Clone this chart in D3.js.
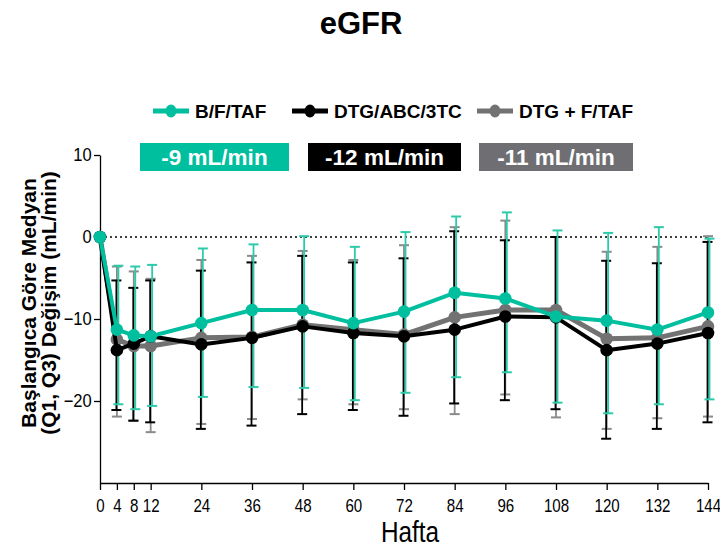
<!DOCTYPE html>
<html>
<head>
<meta charset="utf-8">
<script src="https://cdn.jsdelivr.net/npm/d3@7"></script>
<style>
  body { margin: 0; background: #fff; }
  svg { display: block; font-family: "Liberation Sans", Arial, sans-serif; }
  .tick text { font-family: "Liberation Sans", Arial, sans-serif; font-size: 18px; fill: #000; }
</style>
</head>
<body>
<svg id="chart" width="720" height="547"></svg>
<script>
// weeks on the x axis
var weeks = [0, 4, 8, 12, 24, 36, 48, 60, 72, 84, 96, 108, 120, 132, 144];

// B/F/TAF median change and quartiles
var bftafMedian = [0, -11.3, -12.0, -12.1, -10.5, -8.9, -8.9, -10.5, -9.1, -6.8, -7.5, -9.7, -10.2, -11.3, -9.2];
var bftafQ3 = [null, -3.5, -3.6, -3.4, -1.4, -0.9, 0.1, -1.2, 0.6, 2.5, 3.0, 0.8, 0.5, 1.2, -0.2];
var bftafQ1 = [null, -20.4, -21.0, -20.6, -19.5, -18.3, -18.4, -19.9, -19.0, -17.1, -16.5, -20.2, -21.5, -20.4, -19.8];

// DTG/ABC/3TC
var dtgAbcMedian = [0, -13.8, -13.0, -12.1, -13.1, -12.3, -10.9, -11.7, -12.1, -11.3, -9.7, -9.8, -13.8, -13.0, -11.7];
var dtgAbcQ3 = [null, -5.3, -6.2, -5.3, -4.1, -3.1, -2.3, -3.1, -2.6, 0.7, -0.4, 0.0, -2.9, -3.2, -0.6];
var dtgAbcQ1 = [null, -21.1, -22.4, -22.6, -23.4, -23.0, -21.6, -21.1, -21.8, -20.3, -19.9, -21.0, -24.6, -23.4, -22.6];

// DTG + F/TAF
var dtgFtafMedian = [0, -12.5, -13.3, -13.3, -12.3, -12.2, -10.7, -11.3, -11.9, -9.8, -8.9, -8.9, -12.4, -12.3, -10.9];
var dtgFtafQ3 = [null, -3.6, -4.2, -5.1, -2.8, -2.3, -1.7, -2.8, -1.0, 1.2, 2.0, 0.0, -1.8, -1.2, 0.1];
var dtgFtafQ1 = [null, -21.9, -22.4, -23.8, -22.8, -22.2, -19.8, -20.4, -21.0, -21.6, -19.2, -22.0, -23.4, -22.1, -21.9];

var seriesNames = ["B/F/TAF", "DTG/ABC/3TC", "DTG + F/TAF"];
var summaryLabels = ["-9 mL/min", "-12 mL/min", "-11 mL/min"];
var yTicks = [10, 0, -10, -20];

var colors = { "B/F/TAF": "#00bf9f", "DTG/ABC/3TC": "#000000", "DTG + F/TAF": "#727272" };
var barColors = { "B/F/TAF": "#2ccaa9", "DTG/ABC/3TC": "#000000", "DTG + F/TAF": "#8a8a8a" };

var series = [
  { name: "DTG + F/TAF", med: dtgFtafMedian, lo: dtgFtafQ1, hi: dtgFtafQ3, dx: 0, lw: 5 },
  { name: "DTG/ABC/3TC", med: dtgAbcMedian, lo: dtgAbcQ1, hi: dtgAbcQ3, dx: -0.5, lw: 4 },
  { name: "B/F/TAF", med: bftafMedian, lo: bftafQ1, hi: bftafQ3, dx: 1.5, lw: 4 }
];

var svg = d3.select("#chart");

var x = d3.scaleLinear().domain([0, 144]).range([100, 708]);
var y = d3.scaleLinear().domain([-30, 10]).range([483, 155]);

// title
svg.append("text").attr("x", 361).attr("y", 34).attr("text-anchor", "middle")
  .style("font-size", "31px").style("font-weight", "bold").text("eGFR");

// legend
var legX = [153, 292, 477];
seriesNames.forEach(function (n, i) {
  var g = svg.append("g").attr("transform", "translate(" + legX[i] + ",111)");
  g.append("line").attr("x1", 0).attr("x2", 36).attr("stroke", colors[n]).attr("stroke-width", 5);
  g.append("ellipse").attr("cx", 18).attr("rx", 5.5).attr("ry", 6.5).attr("fill", colors[n]);
  g.append("text").attr("x", 42).attr("y", 7).style("font-size", "19px").style("font-weight", "bold").text(n);
});

// summary boxes
var boxX = [140, 308, 479];
var boxW = [149, 153, 154];
summaryLabels.forEach(function (t, i) {
  var c = [colors["B/F/TAF"], "#000000", "#6f6f73"][i];
  svg.append("rect").attr("x", boxX[i]).attr("y", 143).attr("width", boxW[i]).attr("height", 28).attr("fill", c);
  svg.append("text").attr("x", boxX[i] + boxW[i] / 2).attr("y", 165).attr("text-anchor", "middle")
    .style("font-size", "22.5px").style("font-weight", "bold").attr("fill", "#fff").text(t);
});

// axes
var xAxis = svg.append("g").attr("transform", "translate(0,483)")
  .call(d3.axisBottom(x).tickValues(weeks).tickSize(7).tickSizeOuter(0));
xAxis.selectAll(".tick text").attr("dy", "1.05em").attr("transform", "scale(0.84,1)");
var yAxis = svg.append("g").attr("transform", "translate(100,0)")
  .call(d3.axisLeft(y).tickValues(yTicks).tickSize(6).tickSizeOuter(0));
yAxis.selectAll(".tick text").attr("x", -9).attr("transform", "scale(0.92,1)");
svg.selectAll(".domain, .tick line").attr("stroke", "#000").attr("stroke-width", 1.3);

// zero reference line
svg.append("line").attr("x1", x(0)).attr("x2", x(144)).attr("y1", y(0)).attr("y2", y(0))
  .attr("stroke", "#000").attr("stroke-width", 1.5).attr("stroke-dasharray", "2,3");

// error bars
series.forEach(function (s) {
  var g = svg.append("g").attr("stroke", barColors[s.name]).attr("stroke-width", 1.8);
  weeks.forEach(function (w, i) {
    if (s.lo[i] == null) return;
    var cx = x(w) + s.dx;
    g.append("line").attr("x1", cx).attr("x2", cx).attr("y1", y(s.hi[i])).attr("y2", y(s.lo[i]));
    [s.hi[i], s.lo[i]].forEach(function (v) {
      g.append("line").attr("x1", cx - 5).attr("x2", cx + 5).attr("y1", y(v)).attr("y2", y(v)).attr("stroke-width", 2);
    });
  });
});

// median lines and points
var line = d3.line().x(function (d) { return x(d[0]); }).y(function (d) { return y(d[1]); });
series.forEach(function (s) {
  var pts = weeks.map(function (w, i) { return [w, s.med[i]]; });
  svg.append("path").datum(pts).attr("d", line).attr("fill", "none")
    .attr("stroke", colors[s.name]).attr("stroke-width", s.lw).attr("stroke-linejoin", "round");
  svg.selectAll(null).data(pts).enter().append("circle")
    .attr("cx", function (d) { return x(d[0]); }).attr("cy", function (d) { return y(d[1]); })
    .attr("r", 6.3).attr("fill", colors[s.name]);
});

// axis titles
svg.append("text").attr("transform", "translate(410,542) scale(0.84,1)").attr("text-anchor", "middle")
  .style("font-size", "29px").text("Hafta");
var yl = svg.append("text").attr("transform", "translate(36,303) rotate(-90)").attr("text-anchor", "middle")
  .style("font-size", "21px").style("font-weight", "bold");
yl.append("tspan").attr("x", 0).attr("dy", 0).text("Başlangıca Göre Medyan");
yl.append("tspan").attr("x", 0).attr("dy", 20).text("(Q1, Q3) Değişim (mL/min)");
</script>
</body>
</html>
